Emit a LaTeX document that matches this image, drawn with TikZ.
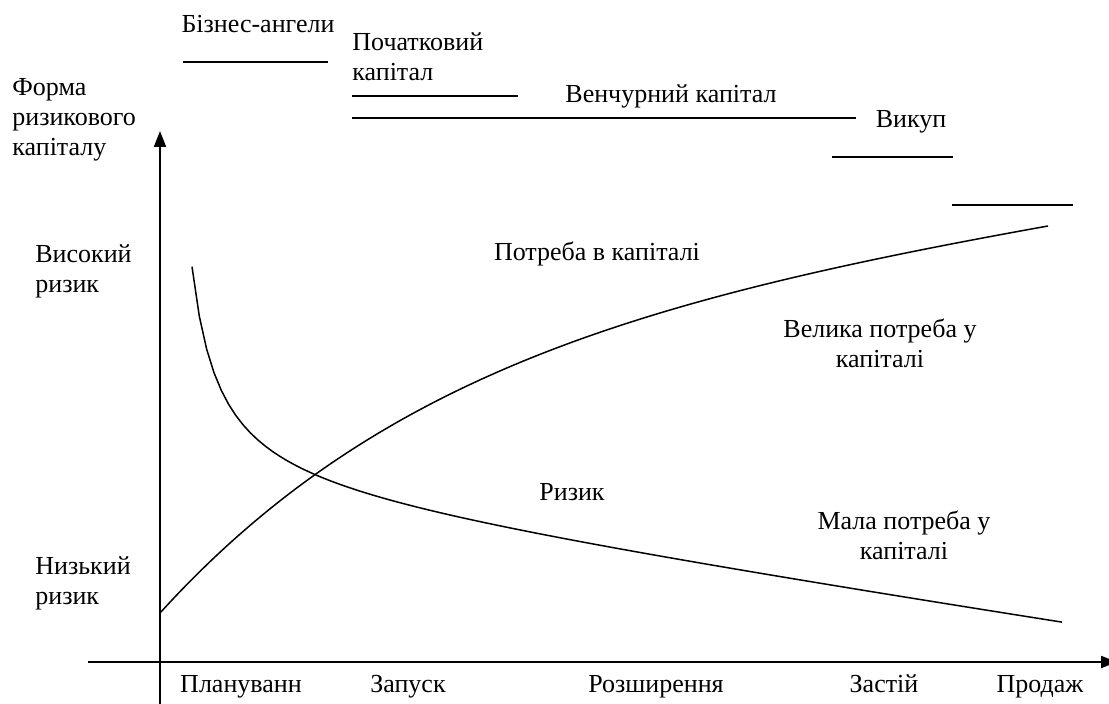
\documentclass[tikz,border=0pt]{standalone}
\usepackage{fontspec}
\setmainfont{Liberation Serif}
\usepackage{tikz}
\usetikzlibrary{arrows.meta}
\tikzset{
  lbl/.style={font=\fontsize{13}{15}\selectfont, inner sep=0pt},
  lblB/.style={lbl, anchor=base},
  lblL/.style={lbl, anchor=west, align=left},
  lblC/.style={lbl, align=center},
  bar/.style={line width=0.8pt},
  axis/.style={line width=1pt, -{Triangle[length=8pt,width=6pt]}},
  curve/.style={line width=0.75pt}
}

\begin{document}
\begin{tikzpicture}[x=0.5pt, y=-0.5pt]
\useasboundingbox (0,0) rectangle (1109,704);
\coordinate (O1) at (160,704);
\coordinate (Ytip) at (160,131);
\coordinate (X1) at (88,662);
\coordinate (Xtip) at (1117,662);
\draw[axis] (O1) -- (Ytip);
\draw[axis] (X1) -- (Xtip);
\node[lblL](form) at (12,120) {Форма\\ризикового\\капіталу};
\node[lblL](high) at (35,271) {Високий\\ризик};
\node[lblL](low) at (35,583) {Низький\\ризик};
\node[lblB](angel) at (258,33) {Бізнес-ангели};
\node[lblL](seed) at (352,57) {Початковий\\капітал};
\node[lblB](vc) at (671,103) {Венчурний капітал};
\node[lblB](buy) at (911,128) {Викуп};
\coordinate (A1) at (183,62);  \coordinate (A2) at (328,62);
\coordinate (S1) at (352,96);  \coordinate (S2) at (518,96);
\coordinate (V1) at (352,118); \coordinate (V2) at (856,118);
\coordinate (B1) at (832,157); \coordinate (B2) at (953,157);
\coordinate (E1) at (952,205); \coordinate (E2) at (1073,205);
\path[bar] (A1) edge (A2);
\path[bar] (S1) edge (S2);
\path[bar] (V1) edge (V2);
\path[bar] (B1) edge (B2);
\path[bar] (E1) edge (E2);
\draw[curve] plot[domain=192:1062, samples=120] (\x, {470+0.15*\x-6430/(\x-164.3)});
\draw[curve] (160,613) .. controls (380,371) and (648,298) .. (1048,226);
\node[lblB](need) at (597,261) {Потреба в капіталі};
\node[lblC](big) at (880,343) {Велика потреба у\\капіталі};
\node[lblB](risk) at (572,501) {Ризик};
\node[lblC](small) at (904,535) {Мала потреба у\\капіталі};
\node[lblB](plan) at (241,693) {Плануванн};
\node[lblB](start) at (408,693) {Запуск};
\node[lblB](grow) at (656,693) {Розширення};
\node[lblB](stag) at (884,693) {Застій};
\node[lblB](sell) at (1040,693) {Продаж};
\end{tikzpicture}
\end{document}
